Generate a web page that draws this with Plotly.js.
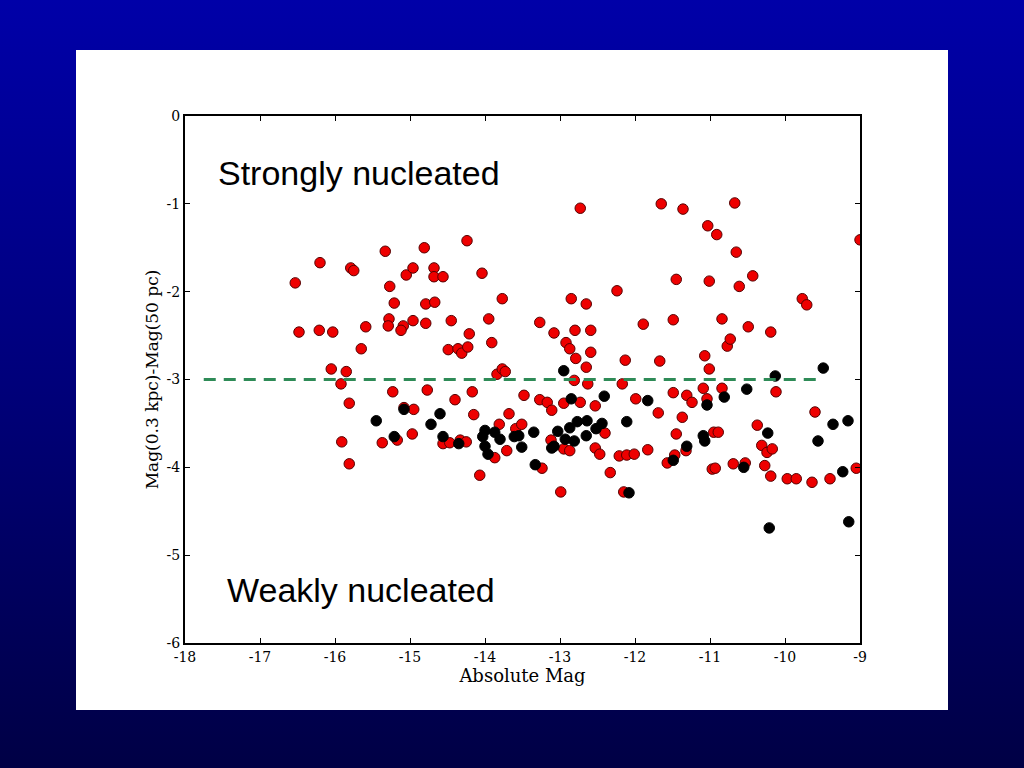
<!DOCTYPE html>
<html>
<head>
<meta charset="utf-8">
<script src="https://cdn.plot.ly/plotly-3.0.1.min.js"></script>
<style>
html,body{margin:0;padding:0;width:1024px;height:768px;overflow:hidden;}
body{background:linear-gradient(to bottom,#0000a8 0%,#00007a 50%,#000045 100%);}
#chart{position:absolute;left:76px;top:50px;width:872px;height:660px;}
</style>
</head>
<body>
<div id="chart"></div>
<script>
// Red points (strongly / mixed sample)
const redX = [-16.53,-16.48,-16.20,-16.21,-16.03,-16.05,-15.85,-15.92,-15.91,-15.81,-15.81,-15.79,-15.75,-15.65,-15.59,-15.37,-15.33,-15.27,-15.28,-15.29,-15.21,-15.23,-15.17,-15.09,-15.12,-15.05,-15.08,-14.96,-14.96,-14.97,-14.95,-14.81,-14.79,-14.79,-14.77,-14.68,-14.68,-14.67,-14.56,-14.56,-14.47,-14.49,-14.45,-14.40,-14.36,-14.31,-14.33,-14.25,-14.23,-14.24,-14.21,-14.17,-14.15,-14.07,-14.04,-13.95,-13.91,-13.87,-13.84,-13.77,-13.73,-13.77,-13.81,-13.68,-13.71,-13.59,-13.51,-13.48,-13.27,-13.08,-13.27,-13.17,-13.11,-13.12,-13.24,-12.99,-12.95,-12.95,-12.92,-12.87,-12.85,-12.87,-12.80,-12.79,-12.81,-12.73,-12.73,-12.65,-12.65,-12.63,-12.59,-12.59,-12.53,-12.53,-12.47,-12.40,-12.33,-12.24,-12.21,-12.17,-12.15,-12.13,-12.11,-12.01,-11.99,-11.89,-11.83,-11.69,-11.67,-11.65,-11.57,-11.49,-11.49,-11.45,-11.45,-11.47,-11.37,-11.36,-11.32,-11.31,-11.24,-11.09,-11.07,-11.04,-11.03,-11.01,-11.01,-10.97,-10.93,-10.95,-10.89,-10.91,-10.84,-10.84,-10.77,-10.73,-10.69,-10.67,-10.65,-10.61,-10.53,-10.49,-10.43,-10.37,-10.31,-10.27,-10.24,-10.19,-10.19,-10.17,-10.12,-9.97,-9.85,-9.77,-9.71,-9.64,-9.60,-9.40,-9.05,-9.00];
const redY = [-1.90,-2.46,-1.67,-2.44,-2.46,-2.88,-2.91,-3.05,-3.71,-3.27,-3.96,-1.73,-1.76,-2.65,-2.40,-3.72,-1.54,-1.94,-2.31,-2.39,-2.13,-3.14,-3.69,-2.39,-2.44,-1.81,-3.32,-1.73,-2.33,-3.62,-3.34,-1.50,-2.14,-2.36,-3.12,-1.73,-1.83,-2.12,-1.83,-3.73,-3.72,-2.66,-2.33,-3.23,-2.65,-2.70,-3.69,-3.71,-2.63,-1.42,-2.48,-3.14,-3.40,-4.09,-1.79,-2.31,-2.58,-3.89,-2.94,-2.88,-2.91,-2.08,-3.51,-3.39,-3.81,-3.56,-3.51,-3.18,-2.35,-2.47,-3.23,-3.26,-3.35,-3.69,-4.01,-4.28,-3.27,-3.79,-2.58,-2.65,-2.08,-3.81,-2.44,-2.76,-3.01,-3.26,-1.05,-2.14,-2.86,-3.05,-2.44,-2.69,-3.30,-3.78,-3.85,-3.61,-4.06,-1.99,-3.87,-3.05,-4.28,-2.78,-3.86,-3.85,-3.22,-2.37,-3.80,-3.38,-2.79,-1.00,-3.95,-2.32,-3.15,-1.86,-3.62,-3.86,-3.43,-1.06,-3.81,-3.18,-3.26,-3.10,-2.73,-3.22,-1.25,-1.88,-2.88,-4.02,-4.01,-3.60,-3.60,-1.35,-2.31,-3.10,-2.62,-2.54,-3.96,-0.99,-1.55,-1.94,-3.95,-2.40,-1.82,-3.52,-3.75,-3.98,-3.83,-2.46,-4.10,-3.79,-3.14,-4.13,-4.13,-2.08,-2.15,-4.17,-3.37,-4.13,-4.01,-1.41];
// Black points
const blackX = [-15.45,-15.08,-15.21,-14.60,-14.72,-14.56,-14.35,-14.00,-13.87,-14.03,-13.80,-13.61,-13.55,-13.35,-13.11,-13.08,-13.51,-14.00,-13.96,-13.03,-12.87,-12.77,-12.64,-12.44,-12.52,-12.65,-12.81,-12.93,-12.85,-12.41,-11.83,-12.11,-13.33,-12.08,-12.95,-11.04,-10.81,-10.51,-10.13,-9.49,-11.09,-11.07,-10.23,-9.36,-9.16,-9.56,-11.31,-11.49,-10.55,-9.23,-10.21,-9.15];
const blackY = [-3.47,-3.34,-3.65,-3.39,-3.51,-3.65,-3.73,-3.58,-3.60,-3.65,-3.68,-3.65,-3.64,-3.60,-3.78,-3.76,-3.77,-3.76,-3.85,-3.59,-3.55,-3.48,-3.47,-3.50,-3.56,-3.64,-3.70,-3.68,-3.22,-3.19,-3.24,-3.48,-3.97,-4.29,-2.90,-3.29,-3.20,-3.11,-2.96,-2.87,-3.64,-3.70,-3.61,-3.51,-3.47,-3.70,-3.76,-3.92,-4.00,-4.05,-4.69,-4.62];
// Threshold line
const lineX = [-17.75, -9.5];
const lineY = [-3, -3];
const xTicks = [-18,-17,-16,-15,-14,-13,-12,-11,-10,-9];
const yTicks = [0,-1,-2,-3,-4,-5,-6];

const tickFont = {family:'DejaVu Serif, serif', size:14, color:'#000'};
const axisCommon = {
  showgrid:false, zeroline:false, showline:true, linecolor:'#000', linewidth:2,
  mirror:'ticks', ticks:'inside', ticklen:5, tickwidth:1, tickcolor:'#000',
  tickfont:tickFont
};

const data = [
  {x:redX, y:redY, type:'scatter', mode:'markers', hoverinfo:'none',
   marker:{color:'#ee0000', size:10.5, line:{color:'#550000', width:1}}},
  {x:blackX, y:blackY, type:'scatter', mode:'markers', hoverinfo:'none',
   marker:{color:'#000000', size:10.5, line:{color:'#000000', width:1}}},
  {x:lineX, y:lineY, type:'scatter', mode:'lines', hoverinfo:'none',
   line:{color:'#2e8b57', width:3, dash:'12px,8px'}}
];

const layout = {
  width:872, height:660,
  paper_bgcolor:'#ffffff', plot_bgcolor:'#ffffff',
  margin:{l:109, r:88, t:66, b:67},
  showlegend:false,
  xaxis:Object.assign({}, axisCommon, {range:[-18,-9], tickvals:xTicks, ticktext:xTicks.map(String),
    title:{text:'Absolute Mag', font:{family:'DejaVu Serif, serif', size:18, color:'#000'}, standoff:2}}),
  yaxis:Object.assign({}, axisCommon, {range:[-6,0], tickvals:yTicks, ticktext:yTicks.map(String),
    title:{text:'Mag(0.3 kpc)-Mag(50 pc)', font:{family:'DejaVu Serif, serif', size:17, color:'#000'}, standoff:4}}),
  annotations:[
    {x:-17.59, y:-0.65, xref:'x', yref:'y', xanchor:'left', yanchor:'middle', showarrow:false,
     text:'Strongly nucleated', font:{family:'Liberation Sans, Arial, sans-serif', size:34, color:'#000'}},
    {x:-17.47, y:-5.40, xref:'x', yref:'y', xanchor:'left', yanchor:'middle', showarrow:false,
     text:'Weakly nucleated', font:{family:'Liberation Sans, Arial, sans-serif', size:34, color:'#000'}}
  ]
};

Plotly.newPlot('chart', data, layout, {displayModeBar:false, staticPlot:true});
</script>
</body>
</html>
